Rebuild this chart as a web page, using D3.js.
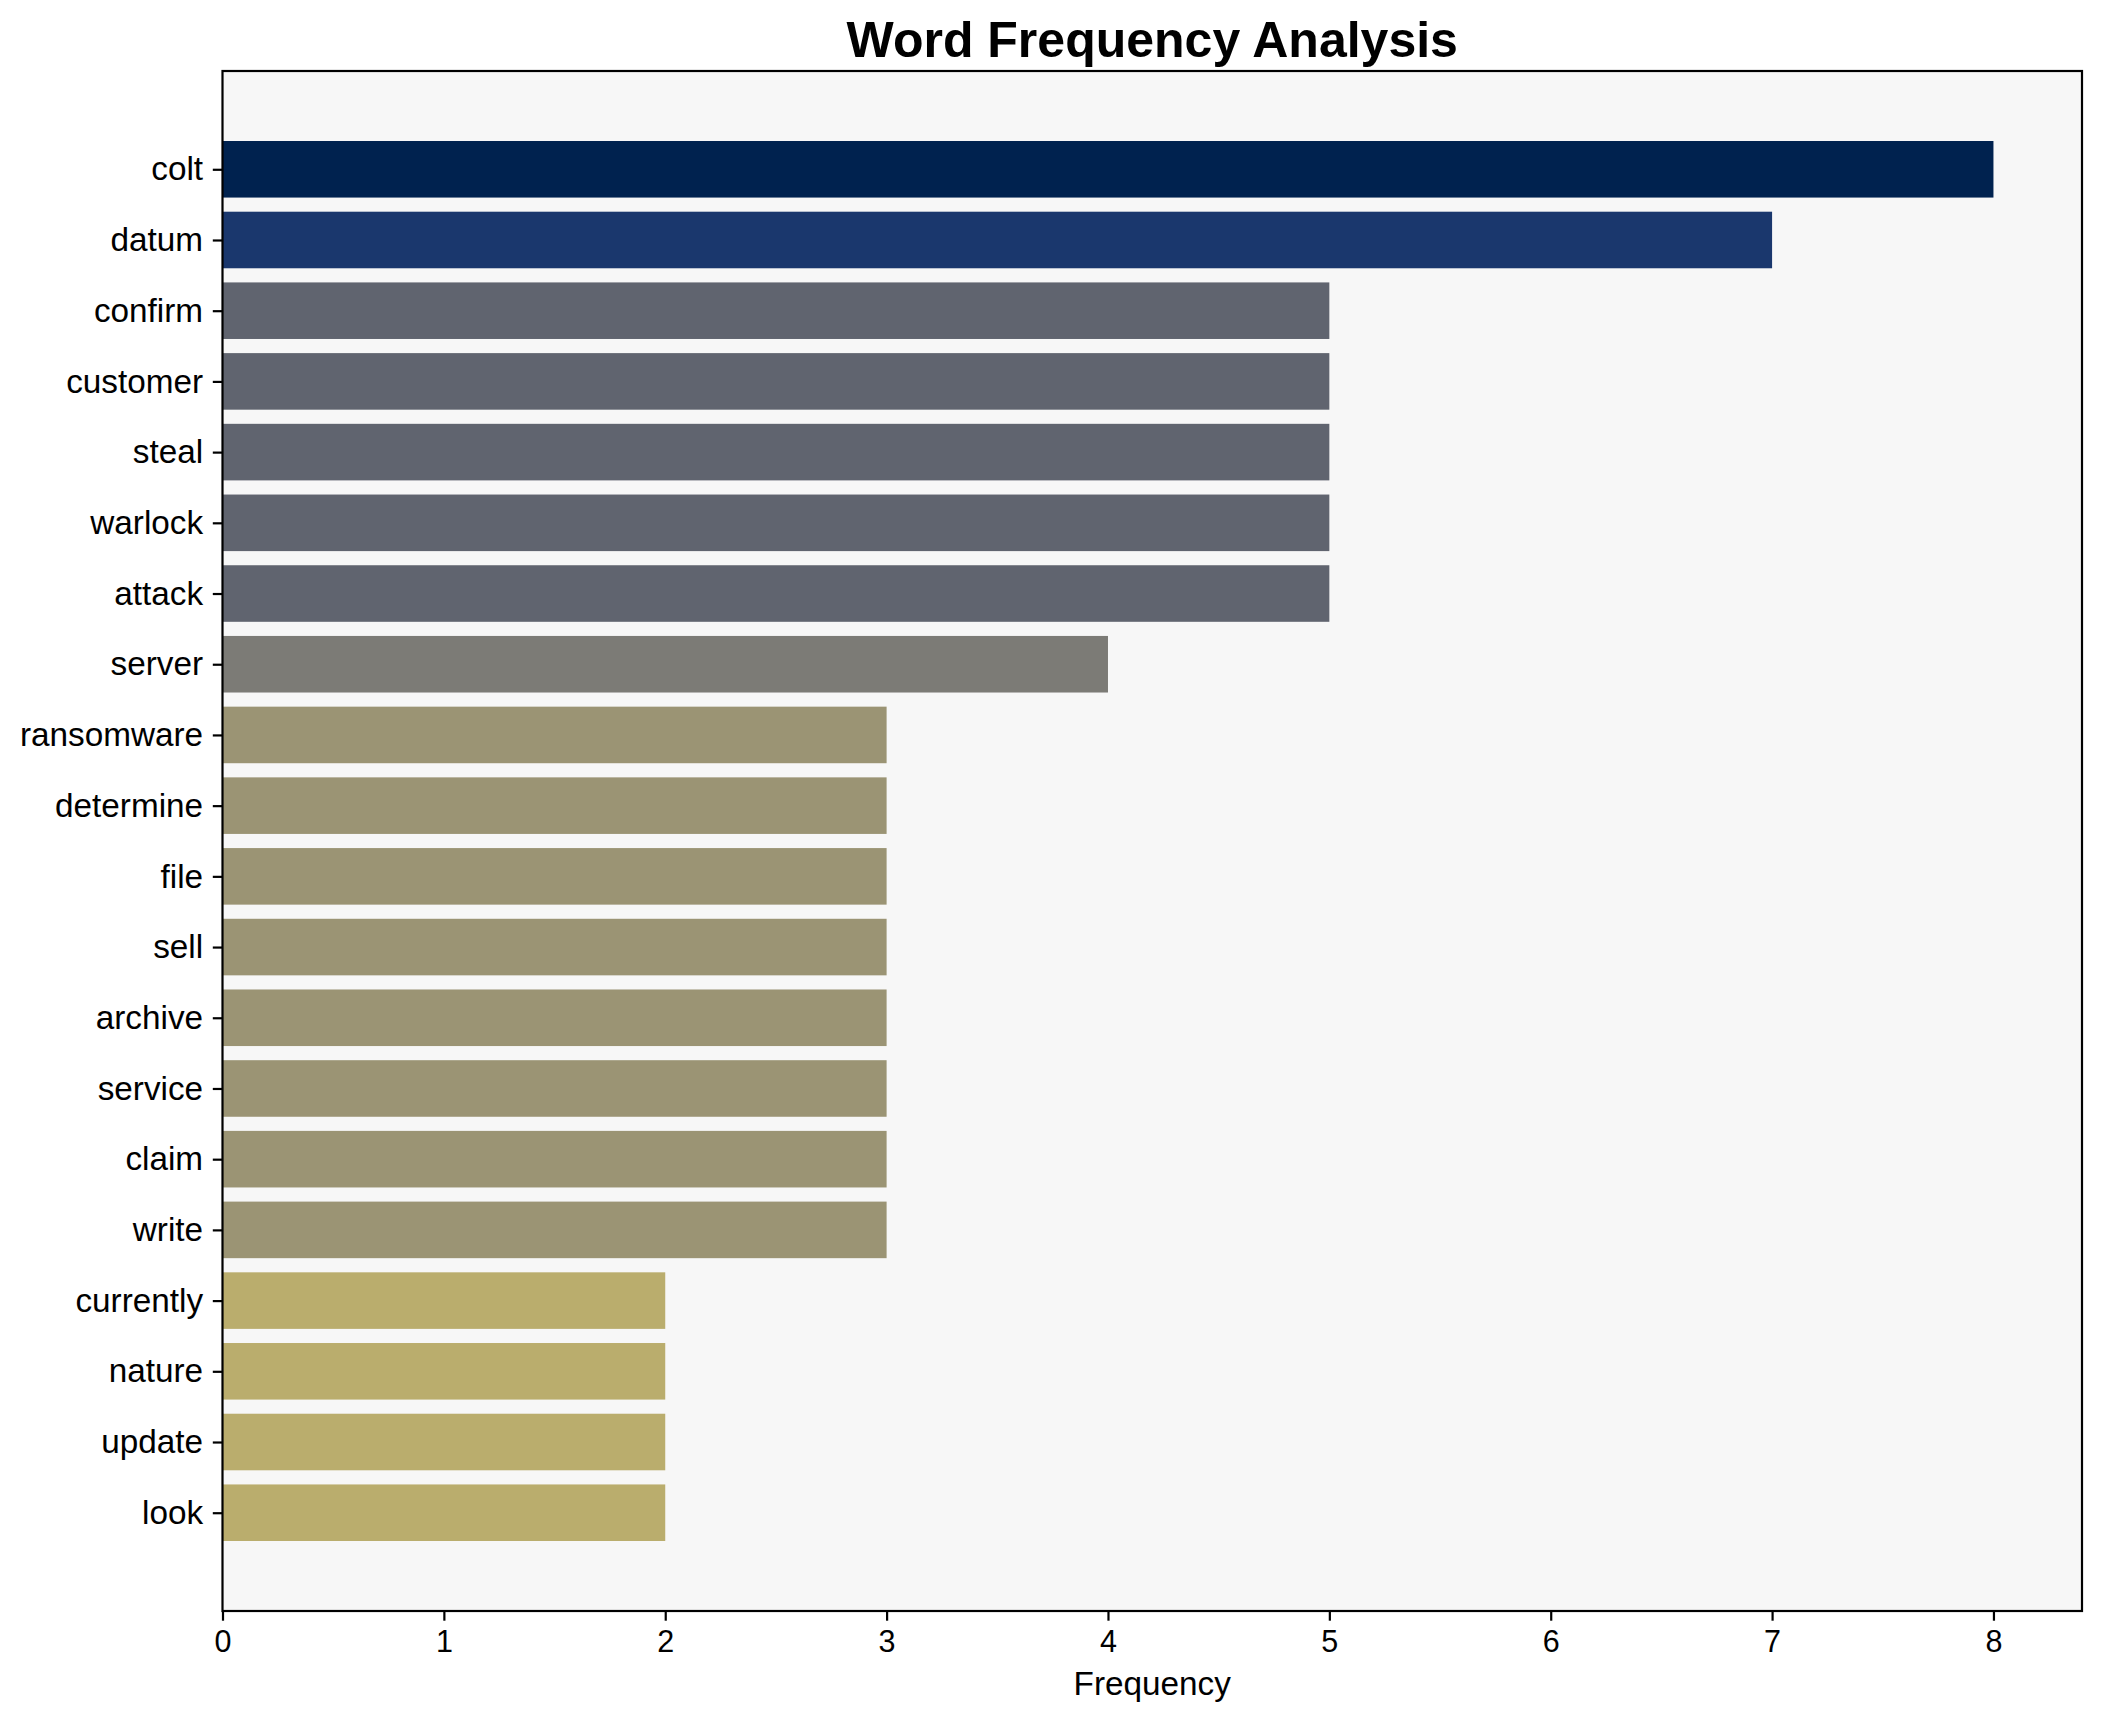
<!DOCTYPE html>
<html>
<head>
<meta charset="utf-8">
<script src="https://cdn.jsdelivr.net/npm/d3@7"></script>
<style>
  html, body { margin: 0; padding: 0; background: #ffffff; }
  svg { display: block; }
</style>
</head>
<body>
<svg id="chart" width="2102" height="1722"></svg>
<script>
const words = ["colt","datum","confirm","customer","steal","warlock","attack","server","ransomware","determine","file","sell","archive","service","claim","write","currently","nature","update","look"];
const counts = [8,7,5,5,5,5,5,4,3,3,3,3,3,3,3,3,2,2,2,2];
const xTicks = [0,1,2,3,4,5,6,7,8];
const colorValues = [8,7,5,4,3,2];
const colorPalette = ["#00224f","#1a376d","#60646f","#7c7b76","#9b9474","#baad6d"];
const titleText = "Word Frequency Analysis";
const xLabelText = "Frequency";

const W = 2102, H = 1722;
const m = { left: 222.5, right: 2082, top: 71, bottom: 1611 };
const svg = d3.select("#chart");
const font = "'Liberation Sans', Arial, Helvetica, sans-serif";

const x = d3.scaleLinear().domain([0, 8.4]).range([m.left, m.right]);
const n = words.length;
const pad = (n - 1 + 0.8) * 0.05;
const y = d3.scaleLinear().domain([-0.4 - pad, n - 1 + 0.4 + pad]).range([m.top, m.bottom]);
const color = d3.scaleOrdinal().domain(colorValues).range(colorPalette);

// plot background
svg.append("rect")
  .attr("x", m.left).attr("y", m.top)
  .attr("width", m.right - m.left).attr("height", m.bottom - m.top)
  .attr("fill", "#f7f7f7");

// bars
const bh = y(0.4) - y(-0.4);
svg.append("g").selectAll("rect").data(words).join("rect")
  .attr("x", x(0))
  .attr("y", (d, i) => y(i - 0.4))
  .attr("width", (d, i) => x(counts[i]) - x(0))
  .attr("height", bh)
  .attr("fill", (d, i) => color(counts[i]));

// frame
svg.append("rect")
  .attr("x", m.left).attr("y", m.top)
  .attr("width", m.right - m.left).attr("height", m.bottom - m.top)
  .attr("fill", "none").attr("stroke", "#000").attr("stroke-width", 2.2);

// x axis
const xAxis = d3.axisBottom(x).tickValues(xTicks).tickFormat(d3.format("d"))
  .tickSize(9.7).tickPadding(9.7);
const gx = svg.append("g").attr("transform", `translate(0,${m.bottom})`).call(xAxis);
gx.select(".domain").remove();
gx.selectAll(".tick line").attr("stroke", "#000").attr("stroke-width", 2.2);
gx.selectAll(".tick text").attr("font-family", font).attr("font-size", 30.5).attr("fill", "#000");

// y axis
const yAxis = d3.axisLeft(y).tickValues(d3.range(n)).tickFormat(i => words[i])
  .tickSize(9.7).tickPadding(9.7);
const gy = svg.append("g").attr("transform", `translate(${m.left},0)`).call(yAxis);
gy.select(".domain").remove();
gy.selectAll(".tick line").attr("stroke", "#000").attr("stroke-width", 2.2);
gy.selectAll(".tick text").attr("font-family", font).attr("font-size", 33.3).attr("fill", "#000");

// title
svg.append("text")
  .attr("x", (m.left + m.right) / 2).attr("y", 57)
  .attr("text-anchor", "middle")
  .attr("font-family", font).attr("font-weight", "bold").attr("font-size", 50)
  .attr("fill", "#000")
  .text(titleText);

// x label
svg.append("text")
  .attr("x", (m.left + m.right) / 2).attr("y", 1695)
  .attr("text-anchor", "middle")
  .attr("font-family", font).attr("font-size", 33.3)
  .attr("fill", "#000")
  .text(xLabelText);
</script>
</body>
</html>
